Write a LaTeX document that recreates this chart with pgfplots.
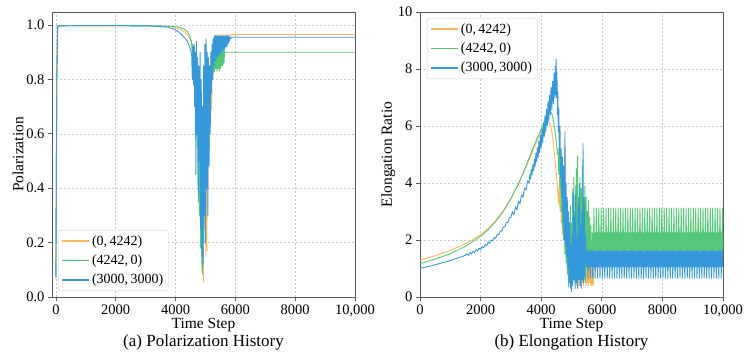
\documentclass[border=0pt]{standalone}
\usepackage{fontspec}
\setmainfont{Liberation Serif}
\usepackage{pgfplots}
\pgfplotsset{compat=1.18}

\definecolor{corange}{RGB}{250,185,95}
\definecolor{cgreen}{RGB}{85,200,120}
\definecolor{cblue}{RGB}{52,152,219}

% legend sample: a plain 27pt stroke in the series' style
\pgfplotsset{legend image code/.code={%
  \draw[#1, line width=1.8pt, line cap=butt] (0pt,0pt) -- (27pt,0pt);}}

\pgfplotsset{
  panel/.style={
    scale only axis, width=303pt, height=285pt,
    clip mode=individual,
    axis line style={draw=black!65, line width=0.8pt},
    tick align=outside,
    tick style={draw=black!65, line width=0.7pt},
    major tick length=4pt,
    xtick pos=left, ytick pos=left,
    grid=major,
    major grid style={draw=black!22, dash pattern=on 2pt off 2pt, line width=0.5pt},
    tick label style={font=\fontsize{14.5}{17}\selectfont},
    label style={font=\fontsize{15.5}{18}\selectfont},
    /pgf/number format/assume math mode=true,
    scaled x ticks=false,
    xtick={0,2000,4000,6000,8000,10000},
    xticklabels={0,2000,4000,6000,8000,{10,000}},
    xmax=10000,
    xlabel={Time Step},
    xlabel style={at={(axis description cs:0.5,-0.098)}, anchor=center},
    legend style={font=\fontsize{14}{17}\selectfont, draw=black!18,
      rounded corners=2pt, fill=white,
      inner xsep=3pt, inner ysep=3.5pt, row sep=4pt, cells={anchor=west}},
    every axis plot/.append style={line width=0.9pt, line join=round},
  }
}

\begin{document}
\begin{tikzpicture}
\path[use as bounding box] (0pt,0pt) rectangle (749pt,360pt);

% ---------------- (a) Polarization ----------------
\begin{axis}[panel, at={(52pt,63pt)}, anchor=south west,
  xmin=-130, ymin=0, ymax=1.048,
  ytick={0,0.2,0.4,0.6,0.8,1.0},
  yticklabel style={/pgf/number format/.cd, fixed, fixed zerofill, precision=1},
  ylabel={Polarization},
  ylabel style={at={(axis description cs:-0.112,0.5)}, anchor=center},
  legend style={at={(axis description cs:0.02,0.021)}, anchor=south west}]

\addplot[color=corange] coordinates {
(0,0.08)(30,0.85)(60,0.997)(1000,0.998)(3000,0.997)(3800,0.995)(4000,0.99)(4150,0.985)(4300,0.975)(4400,0.965)(4480,0.95)(4550,0.93)
(4580,0.88)(4600,0.92)(4620,0.82)(4640,0.90)(4660,0.75)(4680,0.88)(4700,0.62)(4720,0.86)(4740,0.50)(4760,0.82)(4780,0.35)(4800,0.78)
(4820,0.28)(4840,0.70)(4860,0.20)(4880,0.65)(4900,0.10)(4920,0.55)(4930,0.055)(4950,0.50)(4970,0.25)(4990,0.70)(5010,0.15)(5030,0.75)
(5050,0.17)(5070,0.80)(5090,0.40)(5110,0.82)(5130,0.55)(5150,0.85)(5170,0.65)(5190,0.80)(5210,0.69)(5230,0.88)(5250,0.80)(5270,0.93)
(5290,0.90)(5310,0.96)(5330,0.93)(5350,0.965)(5390,0.945)(5430,0.965)(5470,0.945)(5510,0.965)(5550,0.95)(5590,0.965)(5630,0.95)
(5670,0.965)(5710,0.95)(5750,0.965)(5790,0.955)(5830,0.965)(5870,0.962)(5900,0.965)(10000,0.965)
};
\addlegendentry{(0,\,4242)}

\addplot[color=cgreen] coordinates {
(0,0.08)(30,0.8)(60,0.997)(1000,0.998)(3000,0.998)(3800,0.996)(4100,0.993)(4300,0.985)(4400,0.975)(4480,0.96)(4530,0.94)(4560,0.90)
(4580,0.93)(4600,0.85)(4620,0.92)(4640,0.82)(4660,0.90)(4680,0.70)(4700,0.88)(4720,0.55)(4740,0.85)(4760,0.40)(4780,0.80)(4800,0.30)
(4820,0.75)(4840,0.18)(4860,0.70)(4880,0.12)(4900,0.085)(4920,0.60)(4940,0.20)(4960,0.75)(4980,0.35)(5000,0.80)(5020,0.45)(5040,0.82)
(5060,0.55)(5080,0.80)(5100,0.65)(5120,0.82)(5140,0.72)(5160,0.85)(5180,0.78)(5200,0.88)(5220,0.80)(5240,0.90)(5260,0.82)(5280,0.91)
(5300,0.83)(5320,0.92)(5340,0.84)(5360,0.92)(5380,0.83)(5400,0.92)(5420,0.84)(5440,0.92)(5460,0.83)(5480,0.91)(5500,0.84)(5520,0.91)
(5540,0.85)(5560,0.91)(5580,0.85)(5600,0.91)(5620,0.86)(5640,0.905)(5660,0.90)(10000,0.90)
};
\addlegendentry{(4242,\,0)}

\addplot[color=cblue] coordinates {
(0,0.07)(30,0.8)(60,0.997)(1000,0.998)(3000,0.997)(3700,0.993)(3950,0.985)(4100,0.975)(4250,0.96)(4400,0.94)(4500,0.91)(4540,0.89)
(4560,0.80)(4580,0.92)(4600,0.78)(4620,0.93)(4640,0.70)(4660,0.90)(4680,0.45)(4700,0.94)(4720,0.60)(4740,0.88)(4760,0.35)(4780,0.85)
(4800,0.50)(4820,0.90)(4840,0.25)(4860,0.80)(4880,0.15)(4900,0.70)(4920,0.12)(4940,0.85)(4960,0.30)(4980,0.93)(5000,0.20)(5020,0.95)
(5040,0.40)(5060,0.90)(5080,0.30)(5100,0.88)(5120,0.48)(5140,0.85)(5160,0.60)(5180,0.90)(5200,0.75)(5220,0.93)(5240,0.80)(5260,0.95)
(5280,0.85)(5300,0.96)(5320,0.87)(5340,0.96)(5360,0.88)(5380,0.96)(5400,0.88)(5420,0.96)(5440,0.89)(5460,0.96)(5480,0.89)(5500,0.96)
(5520,0.90)(5540,0.96)(5560,0.90)(5580,0.96)(5600,0.91)(5620,0.96)(5640,0.91)(5660,0.96)(5680,0.92)(5700,0.96)(5720,0.92)(5740,0.96)
(5760,0.93)(5780,0.96)(5800,0.94)(5820,0.955)(5850,0.95)(5880,0.955)(10000,0.955)
};
\addlegendentry{(3000,\,3000)}

\node[font=\fontsize{17}{20}\selectfont] at (axis description cs:0.5,-0.161) {(a) Polarization History};
\end{axis}

% ---------------- (b) Elongation ----------------
\begin{axis}[panel, at={(420pt,63pt)}, anchor=south west,
  xmin=0, ymin=0, ymax=10,
  ytick={0,2,4,6,8,10},
  ylabel={Elongation Ratio},
  ylabel style={at={(axis description cs:-0.105,0.5)}, anchor=center},
  legend style={at={(axis description cs:0.023,0.979)}, anchor=north west}]

\addplot[color=corange] coordinates {
(0,1.29)(500,1.45)(1000,1.63)(1500,1.87)(2000,2.18)(2250,2.40)(2500,2.68)(2750,3.03)(3000,3.46)(3250,3.97)(3500,4.56)(3750,5.20)
(3900,5.55)(4000,5.80)(4100,6.0)(4200,6.13)(4260,6.15)(4320,6.0)(4380,5.6)(4440,5.0)(4500,4.3)(4550,3.7)(4580,3.25)(4600,4.2)
(4620,3.0)(4640,4.5)(4660,2.6)(4680,4.0)(4700,2.2)(4720,3.6)(4740,2.0)(4760,4.4)(4785,5.25)(4800,1.8)(4820,3.2)(4840,1.2)(4860,2.8)
(4880,0.9)(4900,2.2)(4920,0.5)(4940,1.8)(4960,0.4)(4980,1.5)(5000,0.6)(5020,2.0)(5040,0.8)(5060,2.4)(5080,0.5)(5100,2.5)(5120,0.7)
(5140,1.8)(5160,0.4)(5180,2.2)(5200,0.5)(5220,1.6)(5240,0.4)(5260,2.0)(5280,0.6)(5300,1.5)(5320,0.4)(5340,2.2)(5360,0.5)(5380,1.8)
(5400,0.4)(5420,1.5)(5440,0.6)(5460,2.0)(5480,0.4)(5500,1.6)(5520,0.5)(5540,1.4)(5560,0.4)(5580,1.5)(5600,0.5)(5620,1.2)(5640,0.4)
(5660,1.6)(5680,0.4)(5700,1.3)(5720,0.42)(5740,1.2)(5760,1.3)(10000,1.3)
};
\addlegendentry{(0,\,4242)}

\addplot[color=cgreen] coordinates {
(0,1.17)(500,1.33)(1000,1.52)(1500,1.78)(2000,2.13)(2250,2.36)(2500,2.65)(2750,3.0)(3000,3.45)(3250,3.97)(3500,4.6)(3750,5.28)
(4000,5.9)(4150,6.25)(4280,6.5)(4350,6.45)(4420,6.1)(4480,5.6)(4540,5.0)(4560,5.2)(4580,4.3)(4600,5.0)(4620,3.8)(4640,4.6)(4660,3.0)
(4680,4.2)(4700,2.4)(4720,4.5)(4740,2.0)(4760,3.8)(4780,1.5)(4800,3.4)(4820,1.2)(4840,3.0)(4860,0.8)(4880,2.5)(4900,0.35)(4920,2.0)
(4940,0.6)(4960,3.2)(4980,0.8)(5000,2.6)(5020,0.5)(5040,3.8)(5060,1.0)(5080,4.2)(5100,0.8)(5120,3.0)(5140,0.5)(5160,4.5)(5180,1.2)
(5200,4.95)(5220,0.8)(5240,3.5)(5260,1.0)(5280,4.2)(5300,0.6)(5320,3.8)(5340,1.2)(5360,4.6)(5380,0.8)(5400,3.3)(5420,1.0)(5440,3.9)
(5460,0.5)(5480,3.5)(5500,1.1)(5520,3.0)(5540,0.9)(5560,3.4)(5580,1.2)(5600,2.8)(5620,1.5)(5640,2.5)(5660,1.6)
(5680,1.62)(5700,2.25)(5720,1.62)(5740,3.12)
(5760,1.62)(5780,2.25)(5800,1.62)(5820,3.12)
(5840,1.62)(5860,2.25)(5880,1.62)(5900,3.12)
(5920,1.62)(5940,2.25)(5960,1.62)(5980,3.12)
(6000,1.62)(6020,2.25)(6040,1.62)(6060,3.12)
(6080,1.62)(6100,2.25)(6120,1.62)(6140,3.12)
(6160,1.62)(6180,2.25)(6200,1.62)(6220,3.12)
(6240,1.62)(6260,2.25)(6280,1.62)(6300,3.12)
(6320,1.62)(6340,2.25)(6360,1.62)(6380,3.12)
(6400,1.62)(6420,2.25)(6440,1.62)(6460,3.12)
(6480,1.62)(6500,2.25)(6520,1.62)(6540,3.12)
(6560,1.62)(6580,2.25)(6600,1.62)(6620,3.12)
(6640,1.62)(6660,2.25)(6680,1.62)(6700,3.12)
(6720,1.62)(6740,2.25)(6760,1.62)(6780,3.12)
(6800,1.62)(6820,2.25)(6840,1.62)(6860,3.12)
(6880,1.62)(6900,2.25)(6920,1.62)(6940,3.12)
(6960,1.62)(6980,2.25)(7000,1.62)(7020,3.12)
(7040,1.62)(7060,2.25)(7080,1.62)(7100,3.12)
(7120,1.62)(7140,2.25)(7160,1.62)(7180,3.12)
(7200,1.62)(7220,2.25)(7240,1.62)(7260,3.12)
(7280,1.62)(7300,2.25)(7320,1.62)(7340,3.12)
(7360,1.62)(7380,2.25)(7400,1.62)(7420,3.12)
(7440,1.62)(7460,2.25)(7480,1.62)(7500,3.12)
(7520,1.62)(7540,2.25)(7560,1.62)(7580,3.12)
(7600,1.62)(7620,2.25)(7640,1.62)(7660,3.12)
(7680,1.62)(7700,2.25)(7720,1.62)(7740,3.12)
(7760,1.62)(7780,2.25)(7800,1.62)(7820,3.12)
(7840,1.62)(7860,2.25)(7880,1.62)(7900,3.12)
(7920,1.62)(7940,2.25)(7960,1.62)(7980,3.12)
(8000,1.62)(8020,2.25)(8040,1.62)(8060,3.12)
(8080,1.62)(8100,2.25)(8120,1.62)(8140,3.12)
(8160,1.62)(8180,2.25)(8200,1.62)(8220,3.12)
(8240,1.62)(8260,2.25)(8280,1.62)(8300,3.12)
(8320,1.62)(8340,2.25)(8360,1.62)(8380,3.12)
(8400,1.62)(8420,2.25)(8440,1.62)(8460,3.12)
(8480,1.62)(8500,2.25)(8520,1.62)(8540,3.12)
(8560,1.62)(8580,2.25)(8600,1.62)(8620,3.12)
(8640,1.62)(8660,2.25)(8680,1.62)(8700,3.12)
(8720,1.62)(8740,2.25)(8760,1.62)(8780,3.12)
(8800,1.62)(8820,2.25)(8840,1.62)(8860,3.12)
(8880,1.62)(8900,2.25)(8920,1.62)(8940,3.12)
(8960,1.62)(8980,2.25)(9000,1.62)(9020,3.12)
(9040,1.62)(9060,2.25)(9080,1.62)(9100,3.12)
(9120,1.62)(9140,2.25)(9160,1.62)(9180,3.12)
(9200,1.62)(9220,2.25)(9240,1.62)(9260,3.12)
(9280,1.62)(9300,2.25)(9320,1.62)(9340,3.12)
(9360,1.62)(9380,2.25)(9400,1.62)(9420,3.12)
(9440,1.62)(9460,2.25)(9480,1.62)(9500,3.12)
(9520,1.62)(9540,2.25)(9560,1.62)(9580,3.12)
(9600,1.62)(9620,2.25)(9640,1.62)(9660,3.12)
(9680,1.62)(9700,2.25)(9720,1.62)(9740,3.12)
(9760,1.62)(9780,2.25)(9800,1.62)(9820,3.12)
(9840,1.62)(9860,2.25)(9880,1.62)(9900,3.12)
(9920,1.62)(9940,2.25)(9960,1.62)(9980,3.12)
(10000,1.62)
};
\addlegendentry{(4242,\,0)}

\addplot[color=cblue] coordinates {
(0,1.00)(500,1.13)(1000,1.28)(1500,1.46)
(1550,1.52)(1600,1.46)(1650,1.56)(1700,1.51)(1750,1.61)(1800,1.56)(1850,1.66)(1900,1.61)(1950,1.71)(2000,1.66)
(2050,1.77)(2100,1.73)(2150,1.84)(2200,1.80)(2250,1.92)(2300,1.88)(2350,2.00)(2400,1.97)(2450,2.09)(2500,2.06)
(2550,2.20)(2600,2.18)(2650,2.32)(2700,2.31)(2750,2.46)(2800,2.46)(2850,2.62)(2900,2.62)(2950,2.78)(3000,2.79)
(3050,3.00)(3100,2.88)(3150,3.17)(3200,3.06)(3250,3.36)(3300,3.27)(3350,3.58)(3400,3.50)(3450,3.82)(3500,3.75)(3550,4.08)(3600,4.01)
(3625,4.31)(3650,4.14)(3675,4.47)(3700,4.29)(3725,4.65)(3750,4.43)(3775,4.83)(3800,4.59)(3825,5.05)(3850,4.74)(3875,5.24)(3900,4.91)
(3925,5.47)(3950,5.07)(3975,5.68)(4000,5.25)(4025,5.92)(4050,5.42)(4075,6.12)(4100,5.62)(4125,6.37)(4150,5.78)(4175,6.59)(4200,6.0)
(4225,6.86)(4250,6.17)(4275,7.08)(4300,6.39)(4325,7.35)(4350,6.56)(4375,7.57)(4400,6.79)(4425,7.86)(4450,6.98)(4470,8.10)(4480,7.1)
(4490,8.35)(4505,7.0)(4520,7.9)(4535,6.4)(4550,7.2)(4565,5.8)(4580,6.6)(4600,5.0)(4620,6.0)(4640,4.2)(4660,5.2)(4680,3.5)(4700,4.9)
(4720,2.6)(4740,4.6)(4760,2.0)(4785,5.8)(4800,1.8)(4820,4.0)(4840,1.4)(4860,3.5)(4880,1.0)(4900,3.0)(4920,0.5)(4940,2.6)(4960,0.3)
(4980,1.8)(5000,0.2)(5020,2.2)(5040,0.4)(5060,3.6)(5080,0.6)(5100,2.8)(5120,0.3)(5140,3.9)(5160,0.5)(5180,2.0)(5200,0.3)(5220,3.2)
(5240,0.6)(5260,4.0)(5280,0.4)(5300,2.5)(5320,0.3)(5340,3.0)(5360,0.6)(5380,5.4)(5400,0.5)(5420,3.5)(5440,0.7)(5460,2.2)
(5480,1.62)(5500,1.06)(5520,1.62)(5540,0.66)
(5560,1.62)(5580,1.06)(5600,1.62)(5620,0.66)
(5640,1.62)(5660,1.06)(5680,1.62)(5700,0.66)
(5720,1.62)(5740,1.06)(5760,1.62)(5780,0.66)
(5800,1.62)(5820,1.06)(5840,1.62)(5860,0.66)
(5880,1.62)(5900,1.06)(5920,1.62)(5940,0.66)
(5960,1.62)(5980,1.06)(6000,1.62)(6020,0.66)
(6040,1.62)(6060,1.06)(6080,1.62)(6100,0.66)
(6120,1.62)(6140,1.06)(6160,1.62)(6180,0.66)
(6200,1.62)(6220,1.06)(6240,1.62)(6260,0.66)
(6280,1.62)(6300,1.06)(6320,1.62)(6340,0.66)
(6360,1.62)(6380,1.06)(6400,1.62)(6420,0.66)
(6440,1.62)(6460,1.06)(6480,1.62)(6500,0.66)
(6520,1.62)(6540,1.06)(6560,1.62)(6580,0.66)
(6600,1.62)(6620,1.06)(6640,1.62)(6660,0.66)
(6680,1.62)(6700,1.06)(6720,1.62)(6740,0.66)
(6760,1.62)(6780,1.06)(6800,1.62)(6820,0.66)
(6840,1.62)(6860,1.06)(6880,1.62)(6900,0.66)
(6920,1.62)(6940,1.06)(6960,1.62)(6980,0.66)
(7000,1.62)(7020,1.06)(7040,1.62)(7060,0.66)
(7080,1.62)(7100,1.06)(7120,1.62)(7140,0.66)
(7160,1.62)(7180,1.06)(7200,1.62)(7220,0.66)
(7240,1.62)(7260,1.06)(7280,1.62)(7300,0.66)
(7320,1.62)(7340,1.06)(7360,1.62)(7380,0.66)
(7400,1.62)(7420,1.06)(7440,1.62)(7460,0.66)
(7480,1.62)(7500,1.06)(7520,1.62)(7540,0.66)
(7560,1.62)(7580,1.06)(7600,1.62)(7620,0.66)
(7640,1.62)(7660,1.06)(7680,1.62)(7700,0.66)
(7720,1.62)(7740,1.06)(7760,1.62)(7780,0.66)
(7800,1.62)(7820,1.06)(7840,1.62)(7860,0.66)
(7880,1.62)(7900,1.06)(7920,1.62)(7940,0.66)
(7960,1.62)(7980,1.06)(8000,1.62)(8020,0.66)
(8040,1.62)(8060,1.06)(8080,1.62)(8100,0.66)
(8120,1.62)(8140,1.06)(8160,1.62)(8180,0.66)
(8200,1.62)(8220,1.06)(8240,1.62)(8260,0.66)
(8280,1.62)(8300,1.06)(8320,1.62)(8340,0.66)
(8360,1.62)(8380,1.06)(8400,1.62)(8420,0.66)
(8440,1.62)(8460,1.06)(8480,1.62)(8500,0.66)
(8520,1.62)(8540,1.06)(8560,1.62)(8580,0.66)
(8600,1.62)(8620,1.06)(8640,1.62)(8660,0.66)
(8680,1.62)(8700,1.06)(8720,1.62)(8740,0.66)
(8760,1.62)(8780,1.06)(8800,1.62)(8820,0.66)
(8840,1.62)(8860,1.06)(8880,1.62)(8900,0.66)
(8920,1.62)(8940,1.06)(8960,1.62)(8980,0.66)
(9000,1.62)(9020,1.06)(9040,1.62)(9060,0.66)
(9080,1.62)(9100,1.06)(9120,1.62)(9140,0.66)
(9160,1.62)(9180,1.06)(9200,1.62)(9220,0.66)
(9240,1.62)(9260,1.06)(9280,1.62)(9300,0.66)
(9320,1.62)(9340,1.06)(9360,1.62)(9380,0.66)
(9400,1.62)(9420,1.06)(9440,1.62)(9460,0.66)
(9480,1.62)(9500,1.06)(9520,1.62)(9540,0.66)
(9560,1.62)(9580,1.06)(9600,1.62)(9620,0.66)
(9640,1.62)(9660,1.06)(9680,1.62)(9700,0.66)
(9720,1.62)(9740,1.06)(9760,1.62)(9780,0.66)
(9800,1.62)(9820,1.06)(9840,1.62)(9860,0.66)
(9880,1.62)(9900,1.06)(9920,1.62)(9940,0.66)
(9960,1.62)(9980,1.06)(10000,1.62)
};
\addlegendentry{(3000,\,3000)}

\node[font=\fontsize{17}{20}\selectfont] at (axis description cs:0.5,-0.161) {(b) Elongation History};
\end{axis}
\end{tikzpicture}
\end{document}
